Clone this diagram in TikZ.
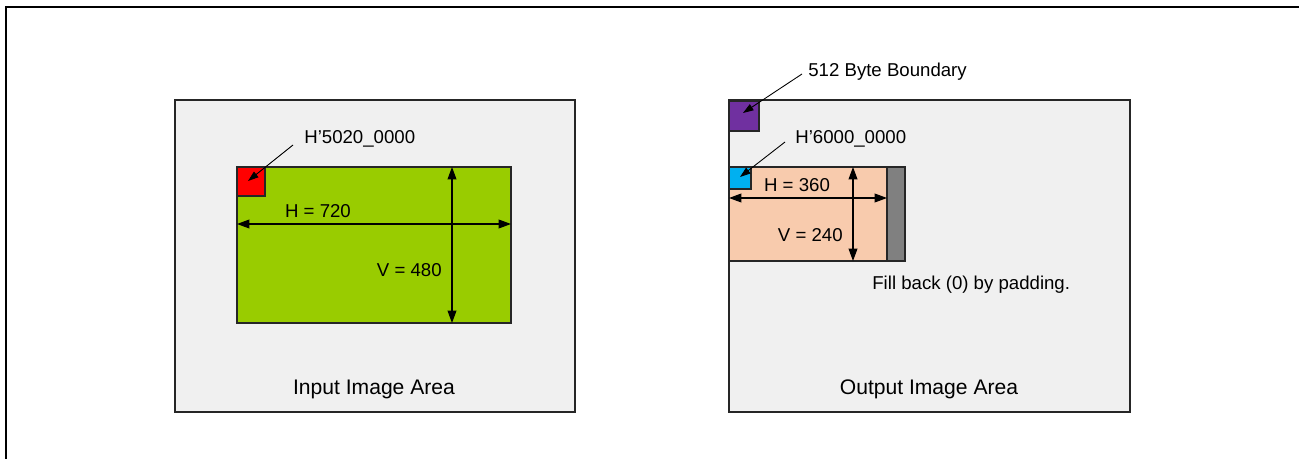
\documentclass[tikz,border=0pt]{standalone}
\usepackage{fontspec}
\setmainfont{Liberation Sans}
\usetikzlibrary{arrows.meta}
\definecolor{areagray}{RGB}{240,240,240}
\definecolor{imggreen}{RGB}{153,204,0}
\definecolor{imgpeach}{RGB}{248,203,173}
\definecolor{bndpurple}{RGB}{112,48,160}
\definecolor{adrcyan}{RGB}{0,176,240}
\definecolor{padgray}{RGB}{128,128,128}

\begin{document}
\begin{tikzpicture}[x=0.02cm,y=-0.02cm,font=\fontsize{10.6}{13}\selectfont,
  area/.style={draw=black!85,line width=0.9pt,fill=areagray},
  areaname/.style={font=\fontsize{12}{14}\selectfont},
  blk/.style={draw=black!85,line width=0.9pt},
  lbl/.style={inner sep=0pt,anchor=west},
  dim/.style={{Triangle[length=7pt,width=5pt]}-{Triangle[length=7pt,width=5pt]},line width=0.6pt},
  ptr/.style={-{Triangle[length=6pt,width=4pt]},line width=0.5pt}]
\useasboundingbox (0,0) rectangle (1299,459);
% frame
\draw[line width=1.2pt] (6,459) -- (6,7) -- (1299,7);

% input side
\draw[area] (175,100) rectangle (575,412);
\node[areaname] (inname) at (374,389) {Input Image Area};
\draw[blk,fill=imggreen] (237,167) rectangle (511,323);
\draw[blk,fill=red] (237,167) rectangle (265,196);
\node[lbl] (inaddr) at (304,139) {H’5020\_0000};
\coordinate (inaddrs) at (293,145);
\coordinate (inaddre) at (248,181);
\draw[ptr] (inaddrs) -- (inaddre);
\coordinate (inhl) at (237,224);
\coordinate (inhr) at (511,224);
\draw[dim] (inhl) -- (inhr);
\node (inh) at (318,211) {H = 720};
\coordinate (invt) at (452,167);
\coordinate (invb) at (452,323);
\draw[dim] (invt) -- (invb);
\node[anchor=east,inner sep=0pt] (inv) at (442,270) {V = 480};

% output side
\draw[area] (729,100) rectangle (1130,412);
\node[areaname] (outname) at (929,389) {Output Image Area};
\draw[blk,fill=bndpurple] (729,101) rectangle (759,131);
\node[lbl] (bnd) at (808,72) {512 Byte Boundary};
\coordinate (bnds) at (802,74);
\coordinate (bnde) at (743,113);
\draw[ptr] (bnds) -- (bnde);
\draw[blk,fill=imgpeach] (729,167) rectangle (887,261);
\draw[blk,fill=padgray] (887,167) rectangle (905,261);
\draw[blk,fill=adrcyan] (729,167) rectangle (751,189);
\node[lbl] (outaddr) at (795,139) {H’6000\_0000};
\coordinate (outaddrs) at (785,142);
\coordinate (outaddre) at (740,177);
\draw[ptr] (outaddrs) -- (outaddre);
\coordinate (outhl) at (729,198);
\coordinate (outhr) at (887,198);
\draw[dim] (outhl) -- (outhr);
\node (outh) at (797,185) {H = 360};
\coordinate (outvt) at (853,167);
\coordinate (outvb) at (853,261);
\draw[dim] (outvt) -- (outvb);
\node[anchor=east,inner sep=0pt] (outv) at (843,235) {V = 240};
\node[lbl] (pad) at (872,285) {Fill back (0) by padding.};
\end{tikzpicture}
\end{document}
